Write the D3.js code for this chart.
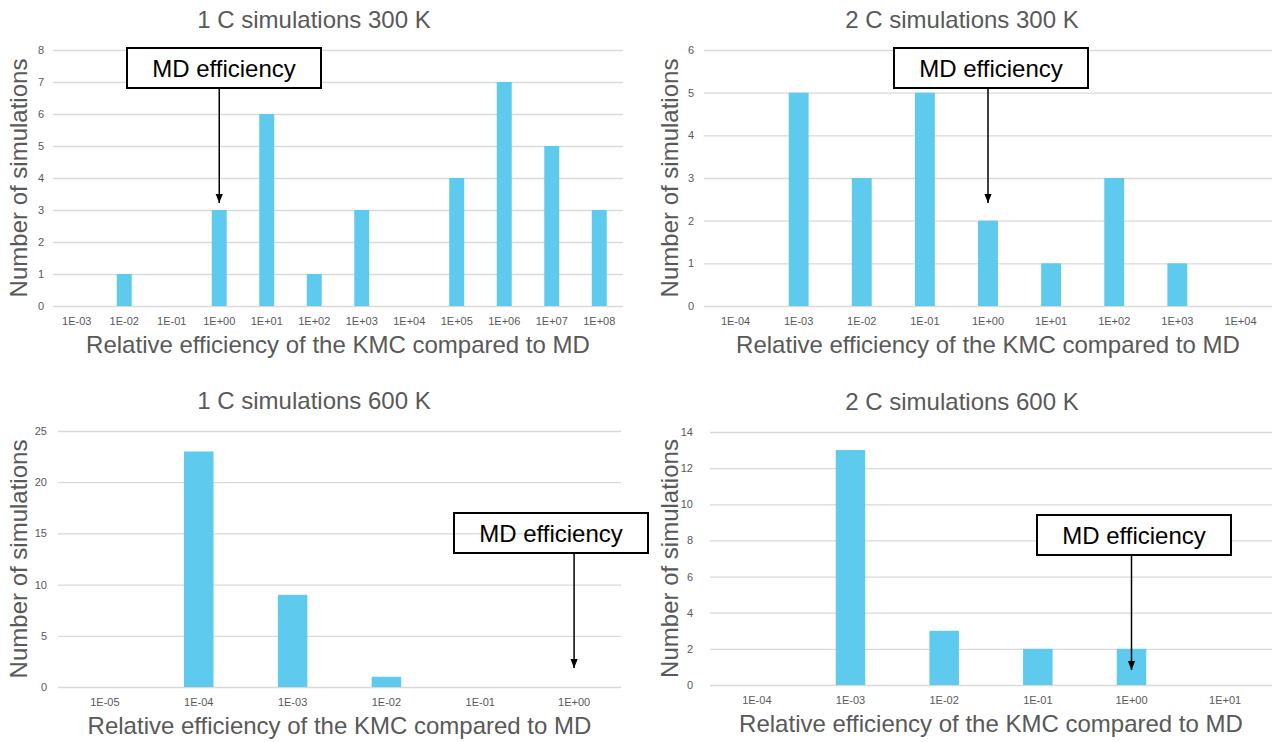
<!DOCTYPE html>
<html>
<head>
<meta charset="utf-8">
<script src="https://cdn.jsdelivr.net/npm/d3@7"></script>
<style>
  body { margin: 0; background: #fff; }
  svg text { font-family: "Liberation Sans", Arial, sans-serif; }
</style>
</head>
<body>
<svg id="chart" width="1272" height="742"></svg>
<script>
// KMC vs MD efficiency histograms, 4 panels

// 1 C, 300 K
const cats1C300 = ['1E-03', '1E-02', '1E-01', '1E+00', '1E+01', '1E+02', '1E+03', '1E+04', '1E+05', '1E+06', '1E+07', '1E+08'];
const vals1C300 = [0, 1, 0, 3, 6, 1, 3, 0, 4, 7, 5, 3];

// 2 C, 300 K
const cats2C300 = ['1E-04', '1E-03', '1E-02', '1E-01', '1E+00', '1E+01', '1E+02', '1E+03', '1E+04'];
const vals2C300 = [0, 5, 3, 5, 2, 1, 3, 1, 0];

// 1 C, 600 K
const cats1C600 = ['1E-05', '1E-04', '1E-03', '1E-02', '1E-01', '1E+00'];
const vals1C600 = [0, 23, 9, 1, 0, 0];

// 2 C, 600 K
const cats2C600 = ['1E-04', '1E-03', '1E-02', '1E-01', '1E+00', '1E+01'];
const vals2C600 = [0, 13, 3, 2, 2, 0];

const xTitle = 'Relative efficiency of the KMC compared to MD';
const yTitle = 'Number of simulations';
const mdLabel = 'MD efficiency';
const mdCategory = '1E+00';

const barColor = '#5DCAEE';
const gridColor = '#D9D9D9';
const textColor = '#595959';

const svg = d3.select('#chart');
svg.append('rect').attr('width', 1272).attr('height', 742).attr('fill', '#fff');

// arrowhead
svg.append('defs').append('marker')
    .attr('id', 'arrow')
    .attr('viewBox', '0 0 10 10')
    .attr('refX', 10).attr('refY', 5)
    .attr('markerWidth', 6).attr('markerHeight', 6)
    .attr('markerUnits', 'strokeWidth')
    .attr('orient', 'auto')
  .append('path')
    .attr('d', 'M0,1 L10,5 L0,9 Z')
    .attr('fill', '#000');

const panels = [
  { title: '1 C simulations 300 K', cats: cats1C300, vals: vals1C300, yMax: 8, yStep: 1,
    left: 53, right: 623, top: 50, bottom: 306, titleX: 314, labelGap: 9, yTitleX: 27,
    box: { x: 127, y: 48, fill: '#fff' }, arrowTip: 203 },
  { title: '2 C simulations 300 K', cats: cats2C300, vals: vals2C300, yMax: 6, yStep: 1,
    left: 704, right: 1272, top: 50, bottom: 306, titleX: 962, labelGap: 10, yTitleX: 678,
    box: { x: 894, y: 48, fill: '#fff' }, arrowTip: 203 },
  { title: '1 C simulations 600 K', cats: cats1C600, vals: vals1C600, yMax: 25, yStep: 5,
    left: 58, right: 621, top: 431, bottom: 687, titleX: 314, labelGap: 11, yTitleX: 27,
    box: { x: 454, y: 513, fill: 'none' }, arrowTip: 668 },
  { title: '2 C simulations 600 K', cats: cats2C600, vals: vals2C600, yMax: 14, yStep: 2,
    left: 710, right: 1272, top: 432, bottom: 685, titleX: 962, labelGap: 17, yTitleX: 678,
    box: { x: 1037, y: 515, fill: '#fff' }, arrowTip: 670 }
];

panels.forEach(drawPanel);

function drawPanel(p) {
  const g = svg.append('g');

  const x = d3.scaleBand()
      .domain(p.cats)
      .range([p.left, p.right])
      .paddingInner(0.685)
      .paddingOuter(0.3425);

  const y = d3.scaleLinear()
      .domain([0, p.yMax])
      .range([p.bottom, p.top]);

  // y axis + gridlines
  const yAxis = g.append('g')
      .attr('transform', 'translate(' + p.left + ',0)')
      .call(d3.axisLeft(y)
        .tickValues(d3.range(0, p.yMax + 1, p.yStep))
        .tickFormat(d3.format('d'))
        .tickSize(-(p.right - p.left))
        .tickPadding(p.labelGap));
  yAxis.select('.domain').remove();
  yAxis.selectAll('line').attr('stroke', gridColor).attr('stroke-width', 1.3);
  yAxis.selectAll('text')
      .attr('fill', textColor)
      .style('font-size', '11px')
      .style('font-family', '"Liberation Sans", Arial, sans-serif');

  // x axis labels
  const xAxis = g.append('g')
      .attr('transform', 'translate(0,' + p.bottom + ')')
      .call(d3.axisBottom(x).tickSize(0).tickPadding(11));
  xAxis.select('.domain').remove();
  xAxis.selectAll('text')
      .attr('fill', textColor)
      .style('font-size', '11px')
      .style('font-family', '"Liberation Sans", Arial, sans-serif');

  // bars
  g.selectAll('.bar')
    .data(p.cats.map((c, i) => ({ cat: c, val: p.vals[i] })))
    .enter().append('rect')
      .attr('class', 'bar')
      .attr('x', d => x(d.cat))
      .attr('y', d => y(d.val))
      .attr('width', x.bandwidth())
      .attr('height', d => y(0) - y(d.val))
      .attr('fill', barColor);

  // chart title
  g.append('text')
      .attr('x', p.titleX)
      .attr('y', p.top - 22)
      .attr('text-anchor', 'middle')
      .attr('fill', textColor)
      .style('font-size', '24px')
      .text(p.title);

  // axis titles
  g.append('text')
      .attr('x', (p.left + p.right) / 2)
      .attr('y', p.bottom + 47)
      .attr('text-anchor', 'middle')
      .attr('fill', textColor)
      .style('font-size', '24px')
      .text(xTitle);

  g.append('text')
      .attr('transform', 'translate(' + p.yTitleX + ',' + (p.top + p.bottom) / 2 + ') rotate(-90)')
      .attr('text-anchor', 'middle')
      .attr('fill', textColor)
      .style('font-size', '24px')
      .text(yTitle);

  // MD efficiency callout
  const bw = 194, bh = 40;
  const ax = x(mdCategory) + x.bandwidth() / 2;
  g.append('line')
      .attr('x1', ax).attr('x2', ax)
      .attr('y1', p.box.y + bh).attr('y2', p.arrowTip)
      .attr('stroke', '#000')
      .attr('stroke-width', 1.5)
      .attr('marker-end', 'url(#arrow)');
  g.append('rect')
      .attr('x', p.box.x).attr('y', p.box.y)
      .attr('width', bw).attr('height', bh)
      .attr('fill', p.box.fill)
      .attr('stroke', '#000')
      .attr('stroke-width', 2);
  g.append('text')
      .attr('x', p.box.x + bw / 2)
      .attr('y', p.box.y + 29)
      .attr('text-anchor', 'middle')
      .attr('fill', '#000')
      .style('font-size', '24px')
      .text(mdLabel);
}
</script>
</body>
</html>
